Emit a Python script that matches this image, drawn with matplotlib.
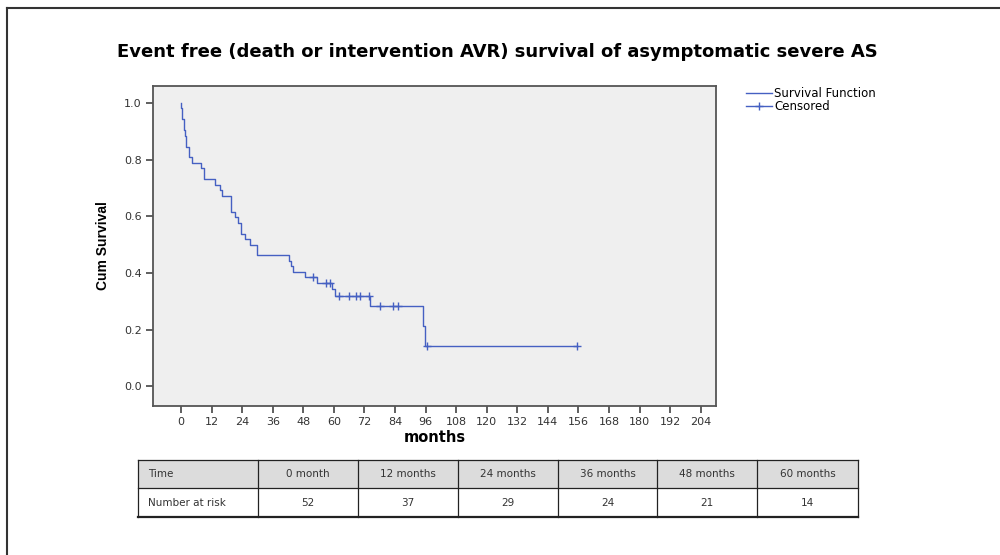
import matplotlib
matplotlib.use("Agg")
import matplotlib.pyplot as plt
from matplotlib.lines import Line2D
from matplotlib.patches import Rectangle

plt.rcParams["font.family"] = ["Liberation Sans", "DejaVu Sans"]

# Kaplan-Meier steps (months, cum survival after the step)
step_times = [0, 0.1, 0.4, 1.2, 1.6, 2.0, 3.3, 4.5, 7.7, 9.0, 13.4, 15.3, 16.0,
              19.5, 21.0, 22.5, 23.4, 25.2, 27.1, 29.7, 42.2, 43.0, 44.0, 48.7,
              53.4, 59.4, 60.6, 74.0, 95.0, 95.6]
step_surv = [1.0, 0.981, 0.942, 0.904, 0.885, 0.846, 0.808, 0.788, 0.769, 0.731,
             0.712, 0.692, 0.673, 0.615, 0.596, 0.577, 0.538, 0.519, 0.500, 0.462,
             0.442, 0.423, 0.404, 0.385, 0.365, 0.342, 0.319, 0.283, 0.212, 0.141]
last_time = 155.5

# censored cases
cens_times = [52.0, 57.0, 58.6, 61.9, 66.0, 68.8, 70.4, 73.6, 78.0, 83.2, 85.0, 96.6, 155.5]
cens_surv = [0.385, 0.365, 0.365, 0.319, 0.319, 0.319, 0.319, 0.319, 0.283, 0.283,
             0.283, 0.141, 0.141]

x_ticks = list(range(0, 205, 12))
y_ticks = [0.0, 0.2, 0.4, 0.6, 0.8, 1.0]

# number at risk table
risk_header = ["Time", "0 month", "12 months", "24 months", "36 months", "48 months", "60 months"]
risk_row = ["Number at risk", "52", "37", "29", "24", "21", "14"]

line_color = "#4560c2"

fig = plt.figure(figsize=(10, 5.55), dpi=100)
W, H = 1000, 555

def fx(px):
    return px / W

def fy(py):
    return 1 - py / H

# outer frame (left and top edges)
fig.add_artist(Line2D([fx(7), fx(7)], [fy(8), 0], color="#333333", lw=1.5))
fig.add_artist(Line2D([fx(7), 1], [fy(8), fy(8)], color="#333333", lw=1.5))

ax = fig.add_axes([fx(153), fy(406), fx(716 - 153), (406 - 86) / H])
ax.set_facecolor("#efefef")

xs = step_times + [last_time]
ys = step_surv + [step_surv[-1]]
ax.step(xs, ys, where="post", color=line_color, lw=1.0)
ax.plot(cens_times, cens_surv, ls="none", marker="+", ms=6, mew=1.0, color=line_color)

ax.set_xlim(-11, 210)
ax.set_ylim(-0.07, 1.06)
ax.set_xticks(x_ticks)
ax.set_yticks(y_ticks)
ax.set_yticklabels([f"{v:.1f}" for v in y_ticks])
ax.tick_params(axis="both", direction="out", length=5, width=1.2, color="#444444",
               labelsize=8, labelcolor="#333333", pad=3)
for lab in ax.get_xticklabels() + ax.get_yticklabels():
    lab.set_family("DejaVu Sans")
for s in ax.spines.values():
    s.set_color("#555555")
    s.set_linewidth(1.3)

ax.set_xlabel("months", fontsize=10.5, fontweight="bold", labelpad=2, family="DejaVu Sans")
ax.set_ylabel("Cum Survival", fontsize=10, fontweight="bold", labelpad=10,
              family=["Liberation Sans Narrow", "Liberation Sans"])

fig.text(fx(497), fy(52), "Event free (death or intervention AVR) survival of asymptomatic severe AS",
         ha="center", va="center", fontsize=13, fontweight="bold", family="DejaVu Sans")

# legend
handles = [Line2D([0], [0], color=line_color, lw=1.0),
           Line2D([0], [0], color=line_color, lw=1.0, marker="+", ms=6)]
fig.legend(handles, ["Survival Function", "Censored"], loc="upper left",
           bbox_to_anchor=(fx(740), fy(81)), frameon=False,
           prop={"family": "DejaVu Sans", "size": 8.5},
           handlelength=2.2, handletextpad=0.2, labelspacing=0.05, borderpad=0)

# number at risk table
col_edges = [138, 258, 358, 458, 558, 657, 757, 858]
row_edges = [460, 488, 517]
tab = fig.add_axes([0, 0, 1, 1])
tab.set_xlim(0, W)
tab.set_ylim(H, 0)
tab.axis("off")
tab.add_patch(Rectangle((col_edges[0], row_edges[0]), col_edges[-1] - col_edges[0],
                        row_edges[1] - row_edges[0], facecolor="#dcdcdc", edgecolor="none"))
for r, row in enumerate([risk_header, risk_row]):
    yc = (row_edges[r] + row_edges[r + 1]) / 2
    for c, txt in enumerate(row):
        if c == 0:
            tab.text(col_edges[0] + 10, yc, txt, ha="left", va="center", fontsize=7.5,
                     family="DejaVu Sans", color="#333333")
        else:
            tab.text((col_edges[c] + col_edges[c + 1]) / 2, yc, txt, ha="center", va="center",
                     fontsize=7.5, family="DejaVu Sans", color="#333333")
for xe in col_edges:
    tab.plot([xe, xe], [row_edges[0], row_edges[-1]], color="#222222", lw=0.9)
for i, ye in enumerate(row_edges):
    tab.plot([col_edges[0], col_edges[-1]], [ye, ye], color="#222222", lw=1.6 if i == 2 else 0.9)

fig.savefig("out.png", dpi=100)
